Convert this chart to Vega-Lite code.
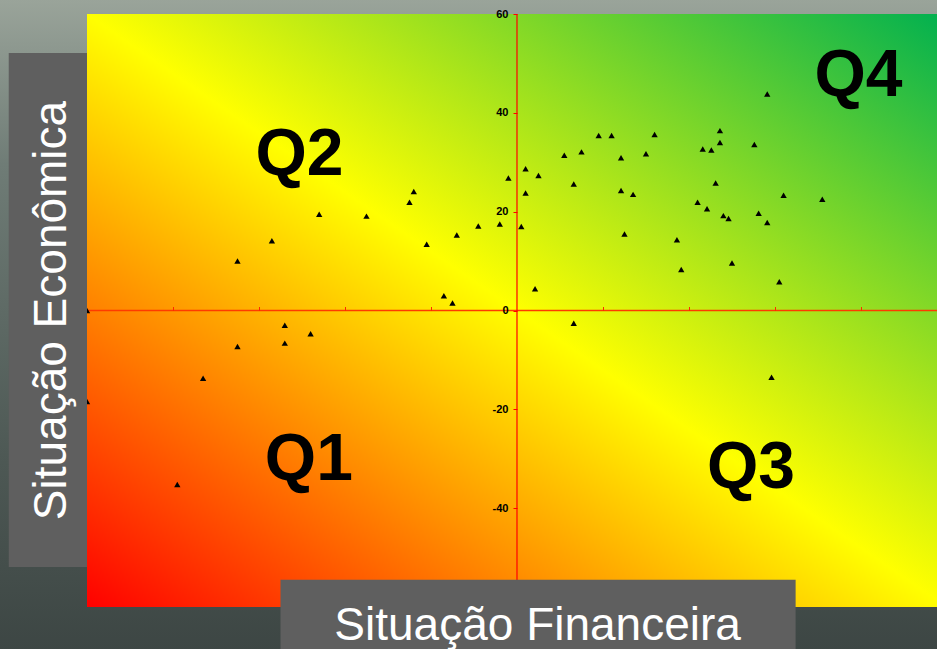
{
  "$schema": "https://vega.github.io/schema/vega-lite/v6.json",
  "autosize": "none",
  "width": 850,
  "height": 593,
  "padding": {"left": 87, "top": 14, "right": 0, "bottom": 42},
  "background": "#4a5450",
  "config": {"view": {"stroke": null}},
  "datasets": {
    "bg": [{"x": -61, "x2": 50, "y": 63, "y2": -71}],
    "plot": [{"x": -50, "x2": 50, "y": -60, "y2": 60}],
    "vline": [{"x": 0, "y": -60, "y2": 60}],
    "hline": [{"x": -50, "x2": 50, "y": 0}],
    "points": [
      {"x": -50.0, "y": 0.0}, {"x": -50.0, "y": -18.4}, {"x": -39.5, "y": -35.2}, {"x": -36.5, "y": -13.7},
      {"x": -32.5, "y": 10.0}, {"x": -32.5, "y": -7.3}, {"x": -28.5, "y": 14.1}, {"x": -27.0, "y": -3.0},
      {"x": -27.0, "y": -6.6}, {"x": -24.0, "y": -4.7}, {"x": -23.0, "y": 19.5}, {"x": -17.5, "y": 19.1},
      {"x": -12.5, "y": 21.9}, {"x": -12.0, "y": 24.1}, {"x": -10.5, "y": 13.4}, {"x": -8.5, "y": 3.0},
      {"x": -7.5, "y": 1.5}, {"x": -7.0, "y": 15.3}, {"x": -4.5, "y": 17.1}, {"x": -2.0, "y": 17.5},
      {"x": -1.0, "y": 26.8}, {"x": 0.5, "y": 17.0}, {"x": 1.0, "y": 23.8}, {"x": 1.0, "y": 28.7},
      {"x": 2.1, "y": 4.4}, {"x": 2.5, "y": 27.3}, {"x": 5.5, "y": 31.4}, {"x": 6.6, "y": 25.6},
      {"x": 6.6, "y": -2.6}, {"x": 7.5, "y": 32.1}, {"x": 9.5, "y": 35.4}, {"x": 11.0, "y": 35.4},
      {"x": 12.1, "y": 30.9}, {"x": 12.1, "y": 24.3}, {"x": 12.5, "y": 15.5}, {"x": 13.5, "y": 23.5},
      {"x": 15.0, "y": 31.7}, {"x": 16.0, "y": 35.6}, {"x": 18.6, "y": 14.3}, {"x": 19.1, "y": 8.3},
      {"x": 21.0, "y": 21.9}, {"x": 21.6, "y": 32.7}, {"x": 22.1, "y": 20.6}, {"x": 22.6, "y": 32.5},
      {"x": 23.1, "y": 25.8}, {"x": 23.6, "y": 36.4}, {"x": 23.6, "y": 34.0}, {"x": 24.0, "y": 19.2},
      {"x": 24.6, "y": 18.6}, {"x": 25.0, "y": 9.6}, {"x": 27.6, "y": 33.6}, {"x": 28.1, "y": 19.7},
      {"x": 29.1, "y": 43.8}, {"x": 29.1, "y": 17.8}, {"x": 29.6, "y": -13.5}, {"x": 30.5, "y": 5.8},
      {"x": 31.0, "y": 23.3}, {"x": 35.5, "y": 22.5}
    ],
    "quads": [
      {"x": -25.3, "y": 27.5, "label": "Q2"},
      {"x": 39.7, "y": 43.4, "label": "Q4"},
      {"x": -24.2, "y": -34.3, "label": "Q1"},
      {"x": 27.2, "y": -36.0, "label": "Q3"}
    ],
    "boxes": [
      {"x": -59.1, "x2": -50, "y": 52.1, "y2": -51.9},
      {"x": -27.5, "x2": 32.4, "y": -54.5, "y2": -72}
    ],
    "ytitle": [{"x": -52.5, "y": 0, "label": "Situação Econômica"}],
    "xtitle": [{"x": 2.4, "y": -66.7, "label": "Situação Financeira"}]
  },
  "encoding": {
    "x": {
      "field": "x", "type": "quantitative",
      "scale": {"domain": [-50, 48.84], "nice": false, "zero": false},
      "axis": {
        "orient": "top", "offset": -296.5, "values": [-40, -30, -20, -10, 10, 20, 30, 40],
        "labels": false, "domain": false, "grid": false, "tickColor": "#FF2A00",
        "tickSize": 4, "tickWidth": 1, "title": null, "zindex": 1
      }
    },
    "y": {
      "field": "y", "type": "quantitative",
      "scale": {"domain": [-60, 60], "nice": false, "zero": false},
      "axis": {
        "orient": "left", "offset": -430, "values": [-40, -20, 0, 20, 40, 60],
        "domain": false, "grid": false, "tickColor": "#FF0000", "tickSize": 4, "tickWidth": 1,
        "labelFont": "Liberation Sans", "labelFontWeight": "bold", "labelFontSize": 11,
        "labelColor": "#000000", "labelPadding": 5, "title": null, "zindex": 1,
        "labelExpr": "datum.value < 0 ? '-' + abs(datum.value) : '' + datum.value"
      }
    }
  },
  "layer": [
    {
      "data": {"name": "bg"},
      "mark": {"type": "rect", "color": {"gradient": "linear", "x1": 0, "y1": 0, "x2": 0, "y2": 1,
        "stops": [{"offset": 0, "color": "#9aa49a"}, {"offset": 0.25, "color": "#6f7c76"}, {"offset": 0.7, "color": "#4d5854"}, {"offset": 1, "color": "#3c4543"}]}},
      "encoding": {"x2": {"field": "x2"}, "y2": {"field": "y2"}}
    },
    {
      "data": {"name": "plot"},
      "mark": {"type": "rect", "color": {"gradient": "linear", "x1": 0, "y1": 1, "x2": 1, "y2": 0,
        "stops": [{"offset": 0, "color": "#FF0000"}, {"offset": 0.5, "color": "#FFFF00"}, {"offset": 1, "color": "#00B050"}]}},
      "encoding": {"x2": {"field": "x2"}, "y2": {"field": "y2"}}
    },
    {
      "data": {"name": "hline"},
      "mark": {"type": "rule", "color": "#FF3A00", "strokeWidth": 1.6},
      "encoding": {"x2": {"field": "x2"}}
    },
    {
      "data": {"name": "vline"},
      "mark": {"type": "rule", "color": "#FF0000", "strokeWidth": 1.2},
      "encoding": {"y2": {"field": "y2"}}
    },
    {
      "data": {"name": "points"},
      "mark": {"type": "point", "shape": "triangle-up", "filled": true, "color": "#000000", "size": 40, "opacity": 1}
    },
    {
      "data": {"name": "quads"},
      "mark": {"type": "text", "font": "Liberation Sans", "fontWeight": "bold", "fontSize": 66, "color": "#000000", "align": "center", "baseline": "alphabetic"},
      "encoding": {"text": {"field": "label"}}
    },
    {
      "data": {"name": "boxes"},
      "mark": {"type": "rect", "color": "#5f5f5f", "opacity": 1},
      "encoding": {"x2": {"field": "x2"}, "y2": {"field": "y2"}}
    },
    {
      "data": {"name": "ytitle"},
      "mark": {"type": "text", "font": "Liberation Sans", "fontSize": 46, "color": "#ffffff", "align": "center", "baseline": "alphabetic", "angle": 270},
      "encoding": {"text": {"field": "label"}}
    },
    {
      "data": {"name": "xtitle"},
      "mark": {"type": "text", "font": "Liberation Sans", "fontSize": 46, "color": "#ffffff", "align": "center", "baseline": "alphabetic"},
      "encoding": {"text": {"field": "label"}}
    }
  ]
}
